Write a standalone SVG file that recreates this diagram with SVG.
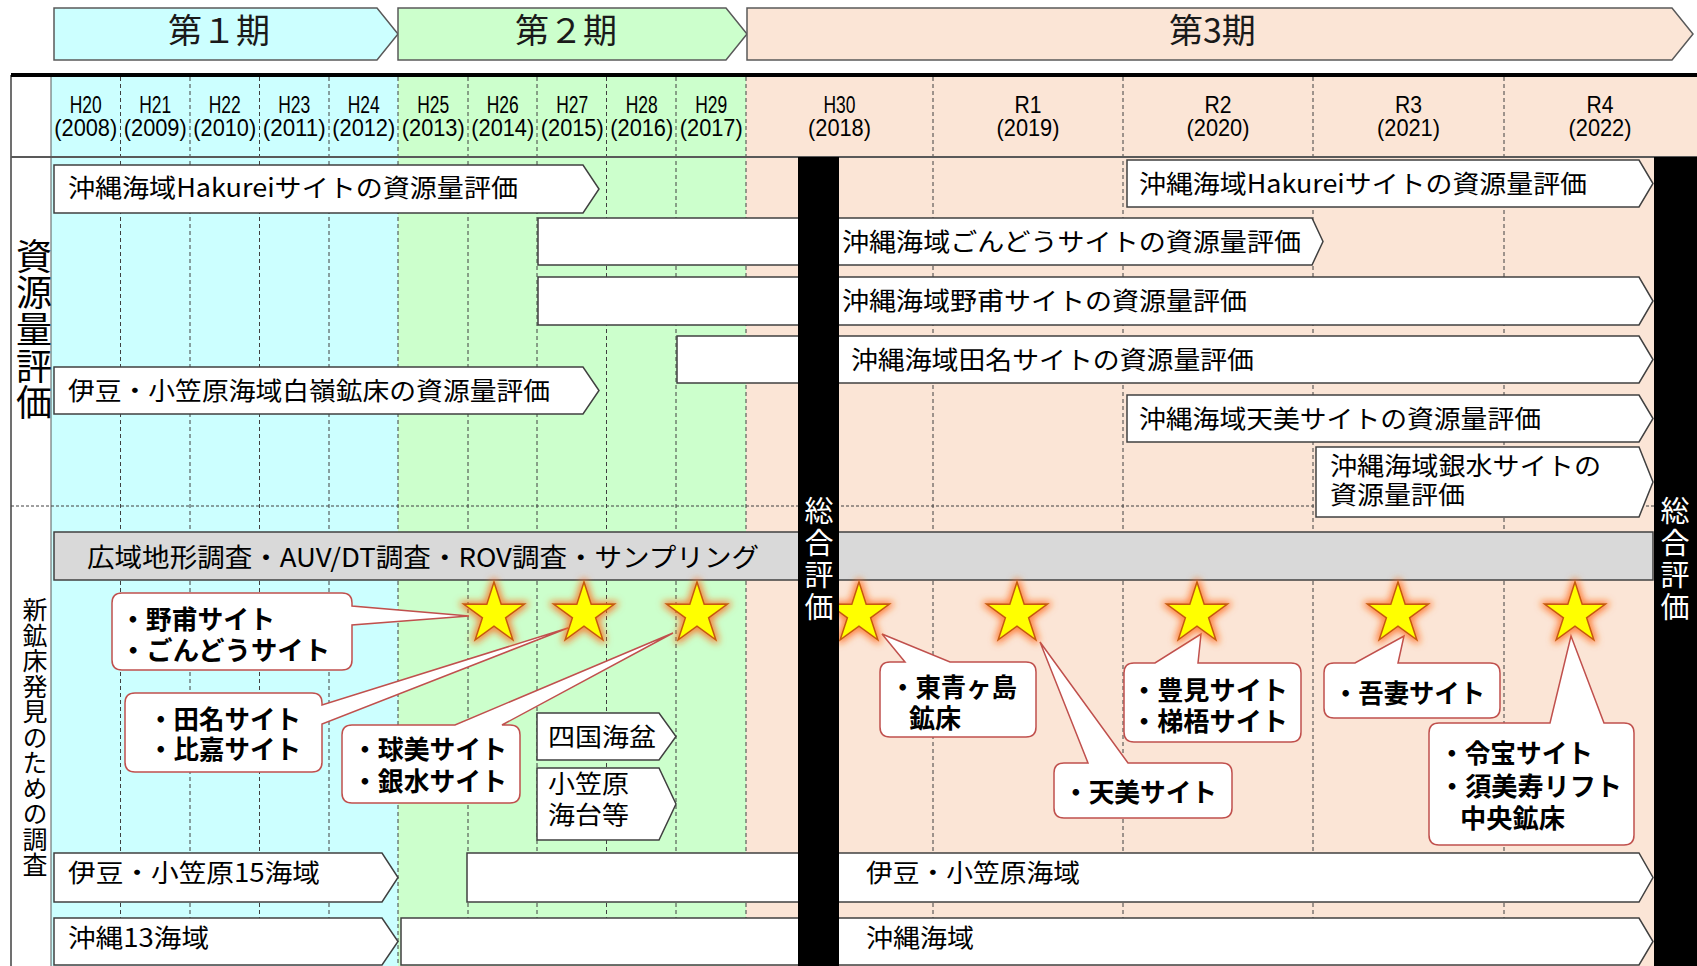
<svg xmlns="http://www.w3.org/2000/svg" xmlns:xlink="http://www.w3.org/1999/xlink" width="1697" height="966" viewBox="0 0 1697 966">
<style>
.t{font-family:"Noto Sans CJK JP","Noto Sans",sans-serif;font-size:25px;fill:#000}
.b{font-family:"Noto Sans CJK JP","Noto Sans",sans-serif;font-size:26px;font-weight:bold;fill:#000}
.p{font-family:"Noto Sans CJK JP","Noto Sans",sans-serif;font-size:34px;fill:#1a1a1a}
.yr{font-family:"Liberation Sans",Arial,sans-serif;font-size:24px;text-anchor:middle;fill:#000}
.v{font-family:"Noto Sans CJK JP","Noto Sans",sans-serif;writing-mode:vertical-rl;text-anchor:start}
.w{fill:#fff;font-size:29px;letter-spacing:3px}
.box{fill:#fff;stroke:#404040;stroke-width:1.5}
.call{fill:#fff;stroke:#C0504D;stroke-width:1.5}
.grid{stroke:#404040;stroke-width:1;stroke-dasharray:4 3;fill:none}
.star{fill:#FFFF00;stroke:#C55A11;stroke-width:1.5;filter:url(#glow)}
.per{stroke:#595959;stroke-width:1.5}
</style>
<defs>
<filter id="glow" x="-60%" y="-60%" width="220%" height="220%">
<feMorphology in="SourceAlpha" operator="dilate" radius="2" result="d"/>
<feGaussianBlur in="d" stdDeviation="3.5" result="bl"/>
<feFlood flood-color="#FF6A1A" flood-opacity="0.8"/>
<feComposite in2="bl" operator="in" result="g"/>
<feMerge><feMergeNode in="g"/><feMergeNode in="SourceGraphic"/></feMerge>
</filter>
<path id="starShape" d="M0,-32 L7.17,-9.87 L30.43,-9.89 L11.6,3.77 L18.81,25.89 L0,12.2 L-18.81,25.89 L-11.6,3.77 L-30.43,-9.89 L-7.17,-9.87 Z"/>
</defs>

<rect x="0" y="0" width="1697" height="966" fill="#fff"/>

<!-- period arrows -->
<g id="period1">
<path class="per" fill="#CCFFFF" d="M54,8 H377 L398,34 L377,60 H54 Z"/>
<text class="p" x="168" y="43">第１期</text>
</g>
<g id="period2">
<path class="per" fill="#CCFFCC" d="M398,8 H726 L747,34 L726,60 H398 Z"/>
<text class="p" x="515" y="43">第２期</text>
</g>
<g id="period3">
<path class="per" fill="#FBE5D6" d="M747,8 H1672 L1693,34 L1672,60 H747 Z"/>
<text class="p" x="1169" y="43">第3期</text>
</g>

<!-- table background -->
<g id="table">
<rect x="51" y="77" width="347" height="889" fill="#CCFFFF"/>
<rect x="398" y="77" width="348" height="889" fill="#CCFFCC"/>
<rect x="746" y="77" width="951" height="889" fill="#FBE5D6"/>
<line x1="11" y1="75" x2="11" y2="966" stroke="#404040" stroke-width="1.5"/>
<line x1="51" y1="77" x2="51" y2="966" stroke="#595959" stroke-width="1"/>
<g class="grid">
<line x1="120.5" y1="77" x2="120.5" y2="966"/>
<line x1="190" y1="77" x2="190" y2="966"/>
<line x1="259.5" y1="77" x2="259.5" y2="966"/>
<line x1="329" y1="77" x2="329" y2="966"/>
<line x1="398" y1="77" x2="398" y2="966"/>
<line x1="468" y1="77" x2="468" y2="966"/>
<line x1="537" y1="77" x2="537" y2="966"/>
<line x1="606.5" y1="77" x2="606.5" y2="966"/>
<line x1="676" y1="77" x2="676" y2="966"/>
<line x1="746" y1="77" x2="746" y2="966"/>
<line x1="933" y1="77" x2="933" y2="966"/>
<line x1="1123" y1="77" x2="1123" y2="966"/>
<line x1="1313" y1="77" x2="1313" y2="966"/>
<line x1="1504" y1="77" x2="1504" y2="966"/>
</g>
<line x1="11" y1="75" x2="1697" y2="75" stroke="#000" stroke-width="4"/>
<line x1="11" y1="157" x2="1697" y2="157" stroke="#595959" stroke-width="2"/>
<line x1="11" y1="506" x2="1697" y2="506" stroke="#404040" stroke-width="1" stroke-dasharray="3 2"/>
</g>

<!-- year header -->
<g id="years">
<text class="yr" x="85.75" y="113" textLength="32" lengthAdjust="spacingAndGlyphs">H20</text>
<text class="yr" x="85.75" y="136" textLength="63" lengthAdjust="spacingAndGlyphs">(2008)</text>
<text class="yr" x="155.25" y="113" textLength="32" lengthAdjust="spacingAndGlyphs">H21</text>
<text class="yr" x="155.25" y="136" textLength="63" lengthAdjust="spacingAndGlyphs">(2009)</text>
<text class="yr" x="224.75" y="113" textLength="32" lengthAdjust="spacingAndGlyphs">H22</text>
<text class="yr" x="224.75" y="136" textLength="63" lengthAdjust="spacingAndGlyphs">(2010)</text>
<text class="yr" x="294.25" y="113" textLength="32" lengthAdjust="spacingAndGlyphs">H23</text>
<text class="yr" x="294.25" y="136" textLength="63" lengthAdjust="spacingAndGlyphs">(2011)</text>
<text class="yr" x="363.75" y="113" textLength="32" lengthAdjust="spacingAndGlyphs">H24</text>
<text class="yr" x="363.75" y="136" textLength="63" lengthAdjust="spacingAndGlyphs">(2012)</text>
<text class="yr" x="433.25" y="113" textLength="32" lengthAdjust="spacingAndGlyphs">H25</text>
<text class="yr" x="433.25" y="136" textLength="63" lengthAdjust="spacingAndGlyphs">(2013)</text>
<text class="yr" x="502.75" y="113" textLength="32" lengthAdjust="spacingAndGlyphs">H26</text>
<text class="yr" x="502.75" y="136" textLength="63" lengthAdjust="spacingAndGlyphs">(2014)</text>
<text class="yr" x="572.25" y="113" textLength="32" lengthAdjust="spacingAndGlyphs">H27</text>
<text class="yr" x="572.25" y="136" textLength="63" lengthAdjust="spacingAndGlyphs">(2015)</text>
<text class="yr" x="641.75" y="113" textLength="32" lengthAdjust="spacingAndGlyphs">H28</text>
<text class="yr" x="641.75" y="136" textLength="63" lengthAdjust="spacingAndGlyphs">(2016)</text>
<text class="yr" x="711.25" y="113" textLength="32" lengthAdjust="spacingAndGlyphs">H29</text>
<text class="yr" x="711.25" y="136" textLength="63" lengthAdjust="spacingAndGlyphs">(2017)</text>
<text class="yr" x="839.5" y="113" textLength="32" lengthAdjust="spacingAndGlyphs">H30</text>
<text class="yr" x="839.5" y="136" textLength="63" lengthAdjust="spacingAndGlyphs">(2018)</text>
<text class="yr" x="1028" y="113" textLength="27" lengthAdjust="spacingAndGlyphs">R1</text>
<text class="yr" x="1028" y="136" textLength="63" lengthAdjust="spacingAndGlyphs">(2019)</text>
<text class="yr" x="1218" y="113" textLength="27" lengthAdjust="spacingAndGlyphs">R2</text>
<text class="yr" x="1218" y="136" textLength="63" lengthAdjust="spacingAndGlyphs">(2020)</text>
<text class="yr" x="1408.5" y="113" textLength="27" lengthAdjust="spacingAndGlyphs">R3</text>
<text class="yr" x="1408.5" y="136" textLength="63" lengthAdjust="spacingAndGlyphs">(2021)</text>
<text class="yr" x="1600" y="113" textLength="27" lengthAdjust="spacingAndGlyphs">R4</text>
<text class="yr" x="1600" y="136" textLength="63" lengthAdjust="spacingAndGlyphs">(2022)</text>
</g>

<!-- section labels -->
<g id="label-resource">
<text class="v" style="font-size:36px;letter-spacing:0.7px" x="34" y="238">資源量評価</text>
</g>
<g id="label-survey">
<text class="v" style="font-size:25px;letter-spacing:0.5px" x="35" y="597">新鉱床発見のための調査</text>
</g>

<!-- resource evaluation bars -->
<g id="hakurei1">
<path class="box" d="M54,165 H583 L599,189 L583,213 H54 Z"/>
<text class="t" x="68" y="197" textLength="450" lengthAdjust="spacingAndGlyphs">沖縄海域Hakureiサイトの資源量評価</text>
</g>
<g id="hakurei2">
<path class="box" d="M1127,160 H1639 L1653,183.5 L1639,207 H1127 Z"/>
<text class="t" x="1139" y="193" textLength="448" lengthAdjust="spacingAndGlyphs">沖縄海域Hakureiサイトの資源量評価</text>
</g>
<g id="gondou">
<path class="box" d="M538,218 H1312 L1323,241.5 L1312,265 H538 Z"/>
<text class="t" x="842" y="251" textLength="459" lengthAdjust="spacingAndGlyphs">沖縄海域ごんどうサイトの資源量評価</text>
</g>
<g id="noho">
<path class="box" d="M538,277 H1639 L1653,301 L1639,325 H538 Z"/>
<text class="t" x="842" y="310" textLength="405" lengthAdjust="spacingAndGlyphs">沖縄海域野甫サイトの資源量評価</text>
</g>
<g id="dana">
<path class="box" d="M677,336 H1639 L1653,359.5 L1639,383 H677 Z"/>
<text class="t" x="851" y="369" textLength="403" lengthAdjust="spacingAndGlyphs">沖縄海域田名サイトの資源量評価</text>
</g>
<g id="hakurei-izu">
<path class="box" d="M54,367 H583 L599,390.5 L583,414 H54 Z"/>
<text class="t" x="68" y="400" textLength="482" lengthAdjust="spacingAndGlyphs">伊豆・小笠原海域白嶺鉱床の資源量評価</text>
</g>
<g id="amami">
<path class="box" d="M1127,395 H1639 L1653,418.5 L1639,442 H1127 Z"/>
<text class="t" x="1139" y="428" textLength="402" lengthAdjust="spacingAndGlyphs">沖縄海域天美サイトの資源量評価</text>
</g>
<g id="ginsui">
<path class="box" d="M1316,447 H1639 L1653,482 L1639,517 H1316 Z"/>
<text class="t" x="1330" y="475" textLength="271" lengthAdjust="spacingAndGlyphs">沖縄海域銀水サイトの</text>
<text class="t" x="1330" y="504" textLength="135" lengthAdjust="spacingAndGlyphs">資源量評価</text>
</g>

<!-- survey section -->
<g id="survey-bar">
<rect x="54" y="532" width="1599" height="48" fill="#D9D9D9" stroke="#404040" stroke-width="1.5"/>
<text class="t" style="font-size:26px" x="87" y="567" textLength="672" lengthAdjust="spacingAndGlyphs">広域地形調査・AUV/DT調査・ROV調査・サンプリング</text>
</g>
<g id="shikoku">
<path class="box" d="M537,713 H659 L676,736.5 L659,760 H537 Z"/>
<text class="t" x="548" y="746" textLength="108" lengthAdjust="spacingAndGlyphs">四国海盆</text>
</g>
<g id="ogasawara">
<path class="box" d="M537,768 H659 L676,804 L659,840 H537 Z"/>
<text class="t" x="548" y="793" textLength="81" lengthAdjust="spacingAndGlyphs">小笠原</text>
<text class="t" x="548" y="824" textLength="81" lengthAdjust="spacingAndGlyphs">海台等</text>
</g>
<g id="izu15">
<path class="box" d="M54,853 H382 L398,877.5 L382,902 H54 Z"/>
<text class="t" x="68" y="882" textLength="252" lengthAdjust="spacingAndGlyphs">伊豆・小笠原15海域</text>
</g>
<g id="izu">
<path class="box" d="M467,853 H1639 L1653,877.5 L1639,902 H467 Z"/>
<text class="t" x="866" y="882" textLength="214" lengthAdjust="spacingAndGlyphs">伊豆・小笠原海域</text>
</g>
<g id="okinawa13">
<path class="box" d="M54,918 H382 L398,941.5 L382,965 H54 Z"/>
<text class="t" x="68" y="947" textLength="141" lengthAdjust="spacingAndGlyphs">沖縄13海域</text>
</g>
<g id="okinawa">
<path class="box" d="M401,918 H1639 L1653,941.5 L1639,965 H401 Z"/>
<text class="t" x="866" y="947" textLength="108" lengthAdjust="spacingAndGlyphs">沖縄海域</text>
</g>

<!-- connectors: callout pointers are part of each callout shape -->
<g id="connectors"></g>

<!-- callouts -->
<g id="callout-noho">
<path class="call" d="M122,593 H342 Q352,593 352,603 V606 L469,616 L352,625 V660 Q352,670 342,670 H122 Q112,670 112,660 V603 Q112,593 122,593 Z"/>
<text class="b" x="120" y="629" textLength="155" lengthAdjust="spacingAndGlyphs">・野甫サイト</text>
<text class="b" x="120" y="660" textLength="210" lengthAdjust="spacingAndGlyphs">・ごんどうサイト</text>
</g>
<g id="callout-dana">
<path class="call" d="M135,693 H312 Q322,693 322,703 V705 L568,628 L322,724 V762 Q322,772 312,772 H135 Q125,772 125,762 V703 Q125,693 135,693 Z"/>
<text class="b" x="148" y="729" textLength="153" lengthAdjust="spacingAndGlyphs">・田名サイト</text>
<text class="b" x="148" y="759" textLength="153" lengthAdjust="spacingAndGlyphs">・比嘉サイト</text>
</g>
<g id="callout-kumi">
<path class="call" d="M352,725 H455 L673,633 L502,725 H510 Q520,725 520,735 V793 Q520,803 510,803 H352 Q342,803 342,793 V735 Q342,725 352,725 Z"/>
<text class="b" x="352" y="759" textLength="155" lengthAdjust="spacingAndGlyphs">・球美サイト</text>
<text class="b" x="352" y="791" textLength="155" lengthAdjust="spacingAndGlyphs">・銀水サイト</text>
</g>
<g id="callout-higashiaogashima">
<path class="call" d="M890,662 H905 L882,634 L950,662 H1026 Q1036,662 1036,672 V727 Q1036,737 1026,737 H890 Q880,737 880,727 V672 Q880,662 890,662 Z"/>
<text class="b" x="890" y="697" textLength="127" lengthAdjust="spacingAndGlyphs">・東青ヶ島</text>
<text class="b" x="909" y="728" textLength="52" lengthAdjust="spacingAndGlyphs">鉱床</text>
</g>
<g id="callout-amami">
<path class="call" d="M1064,763 H1088 L1040,642 L1128,763 H1222 Q1232,763 1232,773 V808 Q1232,818 1222,818 H1064 Q1054,818 1054,808 V773 Q1054,763 1064,763 Z"/>
<text class="b" x="1063" y="802" textLength="154" lengthAdjust="spacingAndGlyphs">・天美サイト</text>
</g>
<g id="callout-tomi">
<path class="call" d="M1134,663 H1155 L1201,634 L1198,663 H1291 Q1301,663 1301,673 V732 Q1301,742 1291,742 H1134 Q1124,742 1124,732 V673 Q1124,663 1134,663 Z"/>
<text class="b" x="1131" y="700" textLength="157" lengthAdjust="spacingAndGlyphs">・豊見サイト</text>
<text class="b" x="1131" y="731" textLength="157" lengthAdjust="spacingAndGlyphs">・梯梧サイト</text>
</g>
<g id="callout-azuma">
<path class="call" d="M1334,663 H1355 L1404,636 L1398,663 H1490 Q1500,663 1500,673 V708 Q1500,718 1490,718 H1334 Q1324,718 1324,708 V673 Q1324,663 1334,663 Z"/>
<text class="b" x="1333" y="703" textLength="152" lengthAdjust="spacingAndGlyphs">・吾妻サイト</text>
</g>
<g id="callout-reiho">
<path class="call" d="M1439,723 H1550 L1571,636 L1604,723 H1624 Q1634,723 1634,733 V835 Q1634,845 1624,845 H1439 Q1429,845 1429,835 V733 Q1429,723 1439,723 Z"/>
<text class="b" x="1439" y="763" textLength="154" lengthAdjust="spacingAndGlyphs">・令宝サイト</text>
<text class="b" x="1439" y="796" textLength="183" lengthAdjust="spacingAndGlyphs">・須美寿リフト</text>
<text class="b" x="1460" y="828" textLength="105" lengthAdjust="spacingAndGlyphs">中央鉱床</text>
</g>

<!-- stars -->
<g id="stars">
<use xlink:href="#starShape" class="star" x="494" y="614"/>
<use xlink:href="#starShape" class="star" x="584" y="614"/>
<use xlink:href="#starShape" class="star" x="697" y="614"/>
<use xlink:href="#starShape" class="star" x="859" y="614"/>
<use xlink:href="#starShape" class="star" x="1017" y="614"/>
<use xlink:href="#starShape" class="star" x="1197" y="614"/>
<use xlink:href="#starShape" class="star" x="1398" y="614"/>
<use xlink:href="#starShape" class="star" x="1575" y="614"/>
</g>

<!-- overall evaluation bars -->
<g id="eval1">
<rect x="798" y="157" width="41" height="809" fill="#000"/>
<text class="v w" x="819" y="496">総合評価</text>
</g>
<g id="eval2">
<rect x="1654" y="157" width="43" height="809" fill="#000"/>
<text class="v w" x="1675" y="496">総合評価</text>
</g>
</svg>
